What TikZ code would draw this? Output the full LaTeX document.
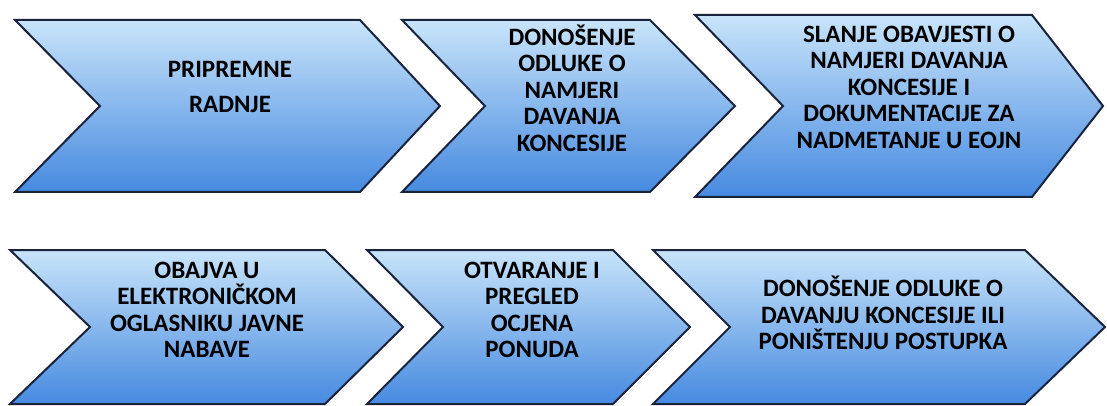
\documentclass[tikz,border=0pt]{standalone}
\usepackage{fontspec}
\setmainfont{Carlito}
\usepackage{xcolor}
\usepackage{tikz}

\definecolor{chevtop}{RGB}{200,228,250}
\definecolor{chevbot}{RGB}{70,138,224}
\definecolor{chevline}{RGB}{25,35,60}

\begin{document}
\begin{tikzpicture}[
    x=0.5pt, y=-0.5pt,
    chev/.style={draw=chevline, line width=1pt, line join=miter, top color=chevtop, bottom color=chevbot},
    label_style/.style={font=\bfseries\fontsize{12.5}{13.25}\selectfont, align=center, text=black, inner sep=0pt}
]
    \useasboundingbox (0,0) rectangle (1107,406);

    % Strelice (lijevo, urez, desno, vrh, gore, dolje)
    \foreach \l/\n/\r/\t/\a/\b in {15/100/360/440/20/192, 402/485/650/735/20/192, 695/783/1032/1103/15/197,
                                   10/90/325/403/250/404, 367/443/613/690/250/404, 653/730/1025/1105/250/404}
        \draw[chev] (\l,\a) -- (\r,\a) -- (\t,{(\a+\b)/2}) -- (\r,\b) -- (\l,\b) -- (\n,{(\a+\b)/2}) -- cycle;

    % Koraci postupka
    \node[label_style] (s1) at (230,87) {PRIPREMNE\\[4.25pt] RADNJE};
    \node[label_style] (s2) at (572,88) {DONOŠENJE\\ ODLUKE O\\ NAMJERI\\ DAVANJA\\ KONCESIJE};
    \node[label_style] (s3) at (909,87) {SLANJE OBAVJESTI O\\ NAMJERI DAVANJA\\ KONCESIJE I\\ DOKUMENTACIJE ZA\\ NADMETANJE U EOJN};
    \node[label_style] (s4) at (207,310) {OBAJVA U\\ ELEKTRONIČKOM\\ OGLASNIKU JAVNE\\ NABAVE};
    \node[label_style] (s5) at (532,310) {OTVARANJE I\\ PREGLED\\ OCJENA\\ PONUDA};
    \node[label_style] (s6) at (883,313) {DONOŠENJE ODLUKE O\\ DAVANJU KONCESIJE ILI\\ PONIŠTENJU POSTUPKA};
\end{tikzpicture}
\end{document}
